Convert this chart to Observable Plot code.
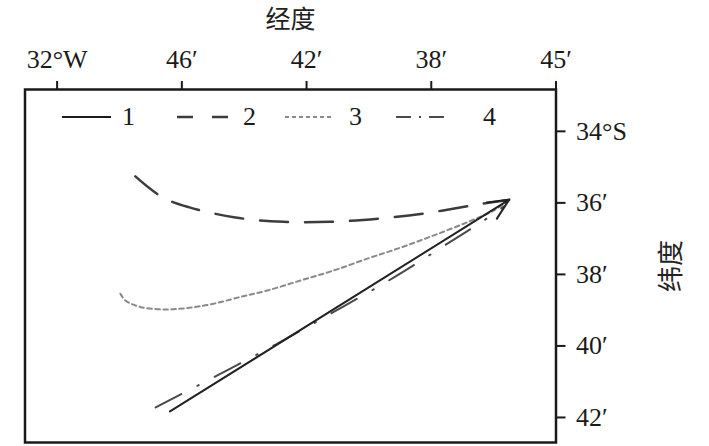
<!DOCTYPE html>
<html>
<head>
<meta charset="utf-8">
<script src="https://cdn.jsdelivr.net/npm/d3@7"></script>
<script src="https://cdn.jsdelivr.net/npm/@observablehq/plot@0.6"></script>
<style>
  html, body { margin: 0; padding: 0; background: #fff; }
  #wrap { position: relative; width: 709px; height: 446px; }
  #legend { position: absolute; left: 0; top: 0; pointer-events: none; }
</style>
</head>
<body>
<div id="wrap"></div>
<script>
// Axis ticks (longitude minutes, west; latitude minutes, south)
const xTicks = [50, 46, 42, 38, 34];
const xTickLabels = ["32°W", "46′", "42′", "38′", "45′"];
const yTicks = [34, 36, 38, 40, 42];
const yTickLabels = ["34°S", "36′", "38′", "40′", "42′"];
const xLabel = "经度";
const yLabel = "纬度";

// Series (x = longitude minutes, y = latitude minutes)
const series1 = [[46.38, 41.83], [35.50, 35.91]];
const series2 = [[47.49, 35.26], [46.63, 35.84], [45.78, 36.12], [44.28, 36.41], [42.74, 36.53],
                 [41.23, 36.53], [39.69, 36.44], [38.18, 36.29], [36.68, 36.07], [35.50, 35.91]];
const series3 = [[47.97, 38.54], [47.81, 38.73], [47.33, 38.91], [46.59, 38.98], [45.83, 38.94],
                 [44.98, 38.82], [44.12, 38.63], [43.26, 38.45], [42.19, 38.17], [41.13, 37.89],
                 [40.05, 37.56], [38.98, 37.25], [37.92, 36.91], [36.84, 36.54], [35.99, 36.21], [35.50, 35.91]];
const series4 = [[46.84, 41.72], [44.92, 40.85], [42.99, 39.96], [41.07, 39.02], [39.17, 38.07],
                 [37.34, 37.06], [36.41, 36.55], [35.67, 36.10]];
const legendNames = ["1", "2", "3", "4"];

const serif = "'Liberation Serif', 'Times New Roman', serif";
const cjk = "'Noto Sans CJK SC', sans-serif";
const ink = "#1a1a1a";

const arrowRow = [{x1: series1[0][0], y1: series1[0][1], x2: series1[1][0], y2: series1[1][1]}];

const chart = Plot.plot({
  width: 709,
  height: 446,
  marginLeft: 24.5,
  marginRight: 153.5,
  marginTop: 89,
  marginBottom: 4,
  style: {fontFamily: serif, fontSize: "26px", color: ink, background: "#fff"},
  x: {domain: [51.03, 34], axis: null},
  y: {domain: [42.70, 32.83], axis: null},
  marks: [
    Plot.axisX({anchor: "top", ticks: xTicks, tickFormat: d => xTickLabels[xTicks.indexOf(d)],
      tickSize: 9, tickPadding: 13, strokeWidth: 2, label: null, fontSize: 26}),
    Plot.axisY({anchor: "right", ticks: yTicks, tickFormat: d => yTickLabels[yTicks.indexOf(d)],
      tickSize: 9, tickPadding: 11, strokeWidth: 2, label: null, fontSize: 26}),
    Plot.frame({stroke: ink, strokeWidth: 2.5}),
    Plot.line(series2, {x: d => d[0], y: d => d[1], curve: "catmull-rom", stroke: "#3c3c3c",
      strokeWidth: 2.5, strokeDasharray: "28,17"}),
    Plot.line(series3, {x: d => d[0], y: d => d[1], curve: "catmull-rom", stroke: "#8a8a8a",
      strokeWidth: 2, strokeDasharray: "4.5,3.5"}),
    Plot.line(series4, {x: d => d[0], y: d => d[1], curve: "catmull-rom", stroke: "#4a4a4a",
      strokeWidth: 2, strokeDasharray: "29,18,1.5,18"}),
    Plot.arrow(arrowRow, {x1: "x1", y1: "y1", x2: "x2", y2: "y2", stroke: "#222",
      strokeWidth: 2, headLength: 17, headAngle: 50}),
    Plot.text([xLabel], {frameAnchor: "top", dy: -70, lineAnchor: "middle", textAnchor: "middle",
      fontSize: 25, fill: "#222"}),
    Plot.text([yLabel], {frameAnchor: "right", dx: 115.5, dy: 0, rotate: -90, textAnchor: "middle",
      lineAnchor: "middle", fontSize: 26, fill: "#222"})
  ]
});

const wrap = document.getElementById("wrap");
wrap.appendChild(chart);

// Fonts: serif for numbers, CJK for the Chinese axis titles
d3.select(chart).selectAll("text").each(function () {
  const t = this.textContent;
  const isCJK = t === xLabel || t === yLabel;
  d3.select(this).style("font-family", isCJK ? cjk : serif);
});

// Legend overlay inside the frame
const leg = d3.select(wrap).append("svg").attr("id", "legend").attr("width", 709).attr("height", 446);
const legItems = [
  {x1: 62, x2: 111, tx: 122, stroke: "#1a1a1a", w: 2, dash: null},
  {x1: 177, x2: 228, tx: 243, stroke: "#3c3c3c", w: 2.5, dash: "16,19"},
  {x1: 285, x2: 333, tx: 349, stroke: "#8a8a8a", w: 2, dash: "4,3"},
  {x1: 396, x2: 445, tx: 483, stroke: "#4a4a4a", w: 2, dash: "15,8,2,8"}
];
legItems.forEach((it, i) => {
  leg.append("line").attr("x1", it.x1).attr("x2", it.x2).attr("y1", 117).attr("y2", 117)
    .attr("stroke", it.stroke).attr("stroke-width", it.w)
    .attr("stroke-dasharray", it.dash);
  leg.append("text").attr("x", it.tx).attr("y", 125).style("font-family", serif)
    .attr("font-size", 26).attr("fill", ink).text(legendNames[i]);
});
</script>
</body>
</html>
